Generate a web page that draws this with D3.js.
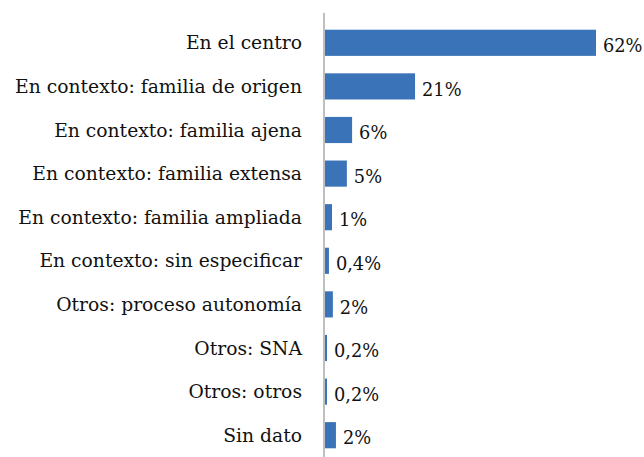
<!DOCTYPE html>
<html><head><meta charset="utf-8">
<script src="https://cdn.jsdelivr.net/npm/d3@7"></script>
<style>body{margin:0;background:#fff}svg{display:block}</style>
</head><body>
<script>
const categories = ["En el centro","En contexto: familia de origen","En contexto: familia ajena","En contexto: familia extensa","En contexto: familia ampliada","En contexto: sin especificar","Otros: proceso autonomía","Otros: SNA","Otros: otros","Sin dato"];
const values = [62, 20.6, 6.2, 5.0, 1.6, 0.9, 1.8, 0.45, 0.45, 2.5];
const valueLabels = ["62%","21%","6%","5%","1%","0,4%","2%","0,2%","0,2%","2%"];

const W = 644, H = 457;
const svg = d3.select("body").append("svg").attr("width", W).attr("height", H);
const x0 = 325;
const x = d3.scaleLinear().domain([0, 62]).range([x0, 596]);
const y = d3.scaleBand().domain(categories).range([21, 457]).paddingInner(0.4).paddingOuter(0.2);
const FONT = "'DejaVu Serif', serif";

svg.selectAll("rect.bar").data(categories).join("rect")
  .attr("class","bar")
  .attr("x", x(0))
  .attr("y", d => y(d))
  .attr("width", (d,i) => x(values[i]) - x(0))
  .attr("height", y.bandwidth())
  .attr("fill", "#3a73b7");

svg.append("line").attr("x1", 324).attr("x2", 324).attr("y1", 13).attr("y2", 457)
  .attr("stroke", "#bfbfbf").attr("stroke-width", 2);

const cats = svg.selectAll("text.cat").data(categories).join("text")
  .attr("class","cat")
  .attr("x", 302)
  .attr("y", d => y(d) + y.bandwidth()/2)
  .attr("dy", "0.35em")
  .attr("text-anchor", "end")
  .attr("font-family", FONT)
  .attr("font-size", 19)
  .attr("fill", "#111")
  .text(d => d);

const longest = cats.filter((d,i) => i === 1).node();
const len = longest.getComputedTextLength();
const fs = 19 * 287 / len;
cats.attr("font-size", fs);

svg.selectAll("text.val").data(categories).join("text")
  .attr("class","val")
  .attr("x", (d,i) => x(values[i]) + 7)
  .attr("y", d => y(d) + y.bandwidth()/2 + 3)
  .attr("dy", "0.35em")
  .attr("font-family", FONT)
  .attr("font-size", fs * 0.95)
  .attr("fill", "#111")
  .text((d,i) => valueLabels[i]);
</script>
</body></html>
